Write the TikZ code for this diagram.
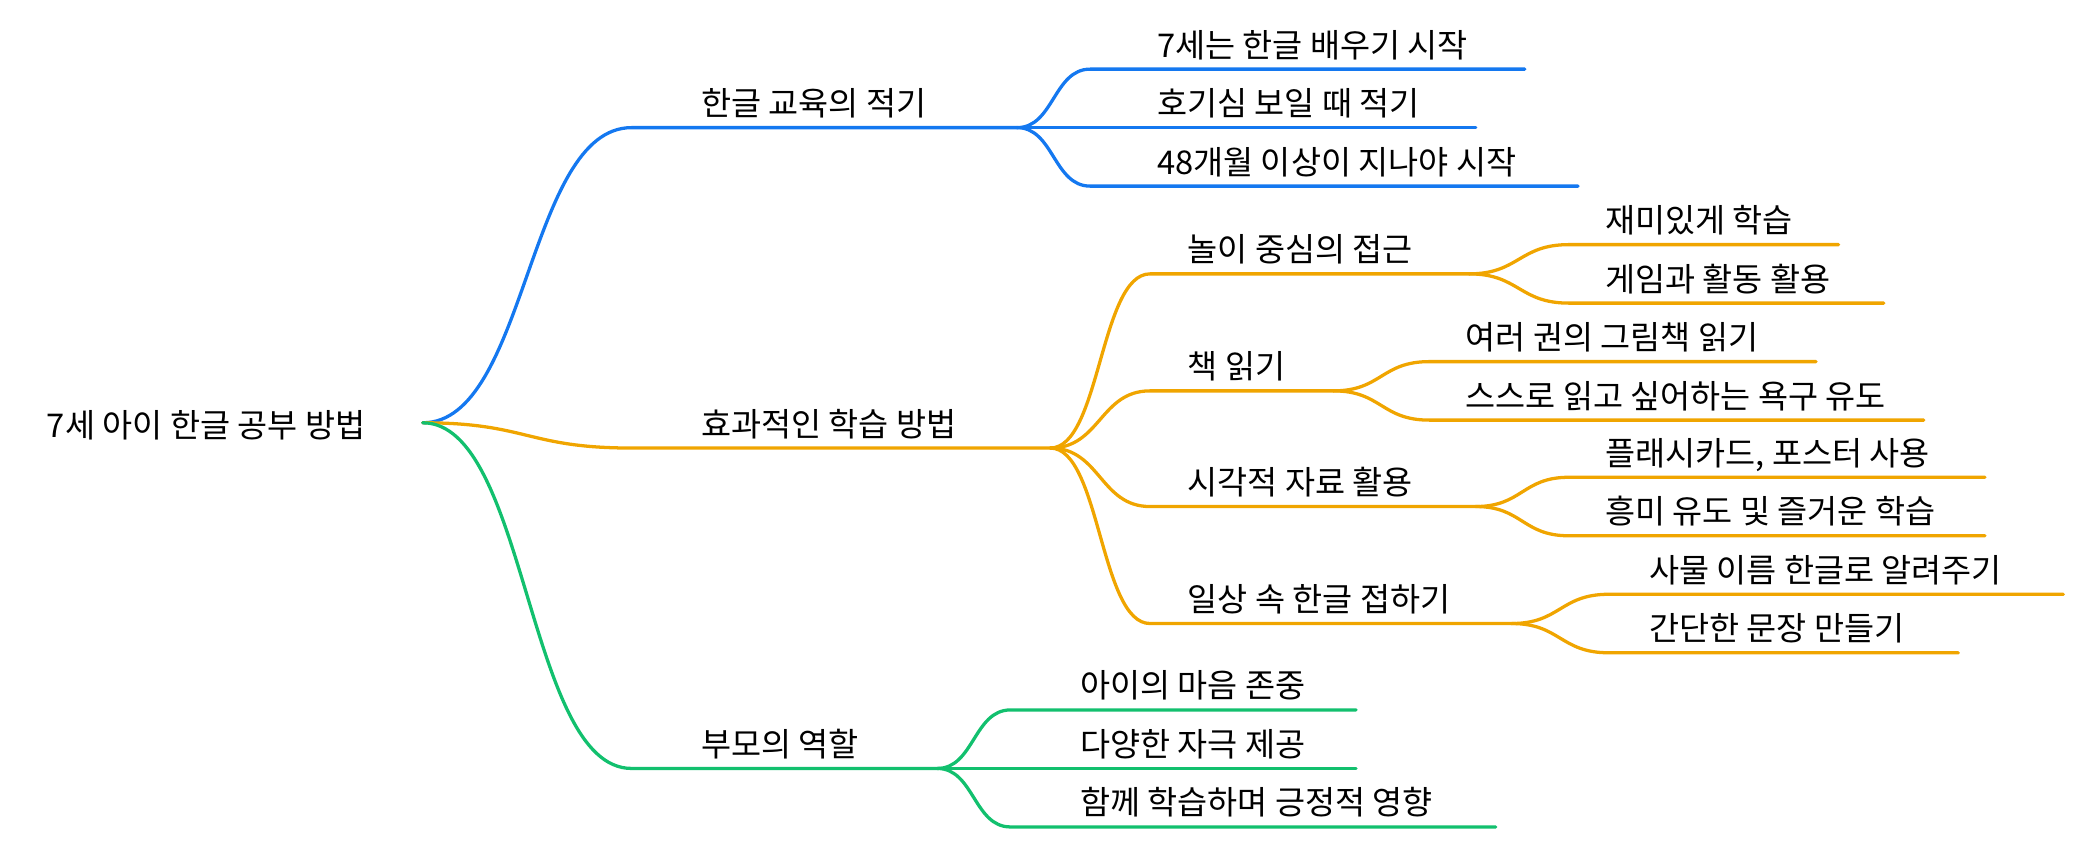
\documentclass[tikz,border=0pt]{standalone}
\usepackage{fontspec}
\setmainfont{Noto Sans CJK KR}
\usetikzlibrary{calc}
\definecolor{cb}{HTML}{1478F0}
\definecolor{co}{HTML}{F0A500}
\definecolor{cg}{HTML}{12C06E}
\newcommand\edgeto[8]{%
  \coordinate (#3-s) at (#4,#5);
  \coordinate (#3) at (#6,#5);
  \path ($(#2)!0.5!(#3-s)$) coordinate (#3-m);
  \draw[branch,#1] (#2) .. controls (#3-m |- #2) and (#3-m |- #3-s) .. (#3-s) -- (#3);
  \node[lbl,anchor=base west] (#3-t) at (#7,#5-9) {#8};
}
\begin{document}
\begin{tikzpicture}[x=0.02cm,y=-0.02cm,
  branch/.style={line width=1.4pt,line cap=round},
  lbl/.style={inner sep=0pt,font=\fontsize{14pt}{16pt}\selectfont}]
\useasboundingbox (0,0) rectangle (1560,635);
\node[lbl,anchor=base west] (root) at (35,329) {7세 아이 한글 공부 방법};
\coordinate (r) at (318,318);
% level 1
\edgeto{cb}{r}{a}{475}{96}{765}{527}{한글 교육의 적기}
\edgeto{co}{r}{b}{475}{337}{790}{527}{효과적인 학습 방법}
\edgeto{cg}{r}{c}{475}{578}{705}{527}{부모의 역할}
% a children
\edgeto{cb}{a}{a1}{820}{52}{1147}{870}{7세는 한글 배우기 시작}
\edgeto{cb}{a}{a2}{820}{96}{1110}{870}{호기심 보일 때 적기}
\edgeto{cb}{a}{a3}{820}{140}{1187}{870}{48개월 이상이 지나야 시작}
% b children
\edgeto{co}{b}{b1}{865}{206}{1105}{893}{놀이 중심의 접근}
\edgeto{co}{b}{b2}{865}{294}{1003}{893}{책 읽기}
\edgeto{co}{b}{b3}{865}{381}{1110}{893}{시각적 자료 활용}
\edgeto{co}{b}{b4}{865}{469}{1137}{893}{일상 속 한글 접하기}
\edgeto{co}{b1}{b11}{1180}{184}{1383}{1207}{재미있게 학습}
\edgeto{co}{b1}{b12}{1180}{228}{1417}{1207}{게임과 활동 활용}
\edgeto{co}{b2}{b21}{1075}{272}{1366}{1102}{여러 권의 그림책 읽기}
\edgeto{co}{b2}{b22}{1075}{316}{1447}{1102}{스스로 읽고 싶어하는 욕구 유도}
\edgeto{co}{b3}{b31}{1180}{359}{1493}{1207}{플래시카드, 포스터 사용}
\edgeto{co}{b3}{b32}{1180}{403}{1493}{1207}{흥미 유도 및 즐거운 학습}
\edgeto{co}{b4}{b41}{1210}{447}{1552}{1240}{사물 이름 한글로 알려주기}
\edgeto{co}{b4}{b42}{1210}{491}{1473}{1240}{간단한 문장 만들기}
% c children
\edgeto{cg}{c}{c1}{760}{534}{1020}{812}{아이의 마음 존중}
\edgeto{cg}{c}{c2}{760}{578}{1020}{812}{다양한 자극 제공}
\edgeto{cg}{c}{c3}{760}{622}{1125}{812}{함께 학습하며 긍정적 영향}
\end{tikzpicture}
\end{document}
